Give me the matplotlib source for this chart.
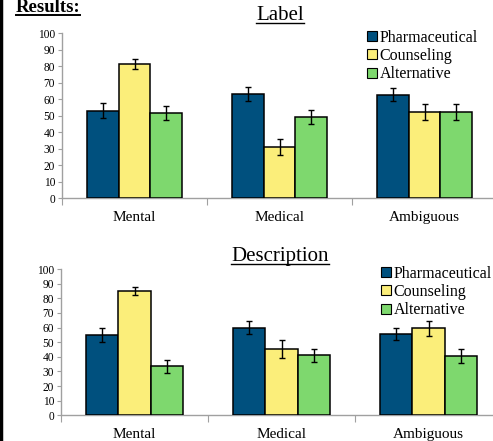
import matplotlib
matplotlib.use('Agg')
import matplotlib.pyplot as plt
import numpy as np
from matplotlib.patches import Patch
from matplotlib.lines import Line2D

plt.rcParams['font.family'] = ['Liberation Serif', 'DejaVu Serif']

categories = ['Mental', 'Medical', 'Ambiguous']
series = ['Pharmaceutical', 'Counseling', 'Alternative']
colors = ['#00507E', '#FBEE7A', '#7ED86E']

# Label condition
label_vals = [[53, 63, 62.5], [81, 31, 52], [51.5, 49.3, 52]]
label_err = [[4.7, 4, 4], [3, 4.7, 5], [4, 4.3, 5]]

# Description condition
desc_vals = [[55, 60, 55.5], [85, 45.3, 59.5], [33.5, 41, 40.5]]
desc_err = [[5, 4.5, 4], [3, 6, 5], [4.3, 4.5, 5]]

W, H = 493, 441
fig = plt.figure(figsize=(W / 100, H / 100), dpi=100)


def underlined_text(x, y, s, size, weight='normal', gap=2.5):
    # y = baseline in pixels from the top
    t = fig.text(x / W, 1 - y / H, s, fontsize=size, fontweight=weight,
                 ha='center', va='baseline', color='black')
    fig.canvas.draw()
    bb = t.get_window_extent(renderer=fig.canvas.get_renderer())
    uy = 1 - (y + gap) / H
    fig.add_artist(Line2D([bb.x0 / W, bb.x1 / W], [uy, uy],
                          color='black', linewidth=1.4 if weight == 'bold' else 1.0,
                          transform=fig.transFigure))


def draw_panel(rect, vals, errs, title, title_y, leg_xy):
    ax = fig.add_axes(rect)
    bw = 0.22
    x = np.arange(len(categories)) + 0.5
    for i, s in enumerate(series):
        ax.bar(x + (i - 1) * bw, vals[i], bw, color=colors[i], edgecolor='black',
               linewidth=1.1, yerr=errs[i], capsize=2,
               error_kw=dict(elinewidth=1, capthick=1, ecolor='black'), zorder=3)
    ax.set_xlim(0, 3)
    ax.set_ylim(0, 100)
    ax.set_yticks(range(0, 101, 10))
    ax.set_xticks([0, 1, 2, 3])
    ax.set_xticklabels([])
    ax.set_xticks(x, minor=True)
    ax.set_xticklabels(categories, minor=True, fontsize=11)
    ax.tick_params(axis='x', which='major', length=5, color='#A0A0A0', direction='out')
    ax.tick_params(axis='x', which='minor', length=0, pad=9)
    ax.tick_params(axis='y', length=3, color='#A0A0A0', labelsize=8.3, pad=2)
    for sp in ['top', 'right']:
        ax.spines[sp].set_visible(False)
    for sp in ['left', 'bottom']:
        ax.spines[sp].set_color('#A0A0A0')
        ax.spines[sp].set_linewidth(1.0)
    handles = [Patch(facecolor=c, edgecolor='black', linewidth=0.8) for c in colors]
    fig.legend(handles, series, loc='upper left',
               bbox_to_anchor=(leg_xy[0] / W, 1 - leg_xy[1] / H),
               frameon=False, fontsize=11.5, handlelength=0.6, handleheight=0.6,
               handletextpad=0.2, labelspacing=0.15, borderpad=0, borderaxespad=0)
    underlined_text(280, title_y, title, 15)
    return ax


draw_panel([62 / W, 1 - 198 / H, 435 / W, 165 / H], label_vals, label_err,
           'Label', 20.5, (367, 29.5))
draw_panel([61 / W, 1 - 415.3 / H, 441 / W, 146.3 / H], desc_vals, desc_err,
           'Description', 261.5, (381, 265.5))

underlined_text(48, 12, 'Results:', 13.5, weight='bold', gap=2.5)

# left border
fig.add_artist(Line2D([0.002, 0.002], [0, 1], color='black', linewidth=2.5,
                      transform=fig.transFigure))

fig.savefig('out.png', dpi=100)
